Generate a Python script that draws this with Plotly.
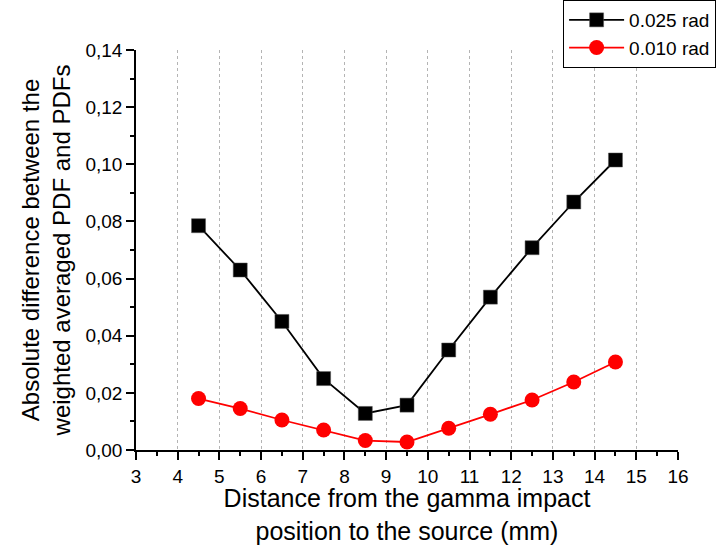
import plotly.graph_objects as go

x_vals = [4.5, 5.5, 6.5, 7.5, 8.5, 9.5, 10.5, 11.5, 12.5, 13.5, 14.5]
y_025 = [0.0785, 0.063, 0.045, 0.025, 0.0128, 0.0157, 0.035, 0.0535, 0.0708, 0.0868, 0.1015]
y_010 = [0.0180, 0.0145, 0.0105, 0.0070, 0.0033, 0.0028, 0.0076, 0.0125, 0.0175, 0.0238, 0.0308]
series_names = ["0.025 rad", "0.010 rad"]
grid_x = [4, 5, 6, 7, 8, 9, 10, 11, 12, 13, 14, 15]

FONT = "Liberation Sans, Arial, sans-serif"

fig = go.Figure()
fig.add_trace(go.Scatter(x=x_vals, y=y_025, mode="lines+markers", name=series_names[0],
                         line=dict(color="black", width=1.8),
                         marker=dict(symbol="square", size=14, color="black",
                                     line=dict(color="#555", width=0.5))))
fig.add_trace(go.Scatter(x=x_vals, y=y_010, mode="lines+markers", name=series_names[1],
                         line=dict(color="red", width=1.8),
                         marker=dict(symbol="circle", size=15, color="red")))
# invisible trace for gridline axis
fig.add_trace(go.Scatter(x=[3, 16], y=[0, 0], xaxis="x2", mode="markers",
                         marker=dict(opacity=0), showlegend=False, hoverinfo="skip"))

fig.update_layout(
    width=716, height=545,
    margin=dict(l=136, r=38, t=50, b=95, autoexpand=False),
    paper_bgcolor="white", plot_bgcolor="white",
    separators=", ",
    font=dict(family=FONT, color="black", size=19),
    showlegend=True,
    legend=dict(x=0.788, y=1.125, xanchor="left", yanchor="top",
                bordercolor="black", borderwidth=1, bgcolor="white",
                font=dict(size=19, family=FONT), itemwidth=55,
                tracegroupgap=0),
    xaxis=dict(range=[3, 16], dtick=1, tick0=3, showgrid=False, zeroline=False,
               showline=True, linecolor="black", linewidth=1.5, automargin=False,
               ticks="outside", ticklen=8, tickwidth=1.5, tickcolor="black",
               minor=dict(dtick=0.5, ticks="outside", ticklen=4, tickwidth=1.5, tickcolor="black"),
               tickfont=dict(size=19),
               title=dict(text="Distance from the gamma impact<br>position to the source (mm)",
                          font=dict(size=25), standoff=2)),
    xaxis2=dict(range=[3, 16], overlaying="x", tickvals=grid_x, showticklabels=False,
                showgrid=True, gridcolor="#b4b4b4", griddash="3px,3px", gridwidth=1,
                zeroline=False, showline=False, ticks="", automargin=False),
    yaxis=dict(range=[0, 0.14], dtick=0.02, tickformat=".2f", showgrid=False, zeroline=False,
               showline=True, linecolor="black", linewidth=1.5, automargin=False,
               ticks="outside", ticklen=8, tickwidth=1.5, tickcolor="black",
               minor=dict(dtick=0.01, ticks="outside", ticklen=4, tickwidth=1.5, tickcolor="black"),
               tickfont=dict(size=19),
               title=dict(text="Absolute difference between the<br>weighted averaged PDF and PDFs",
                          font=dict(size=24), standoff=8)),
)

fig.write_html("out.html")
